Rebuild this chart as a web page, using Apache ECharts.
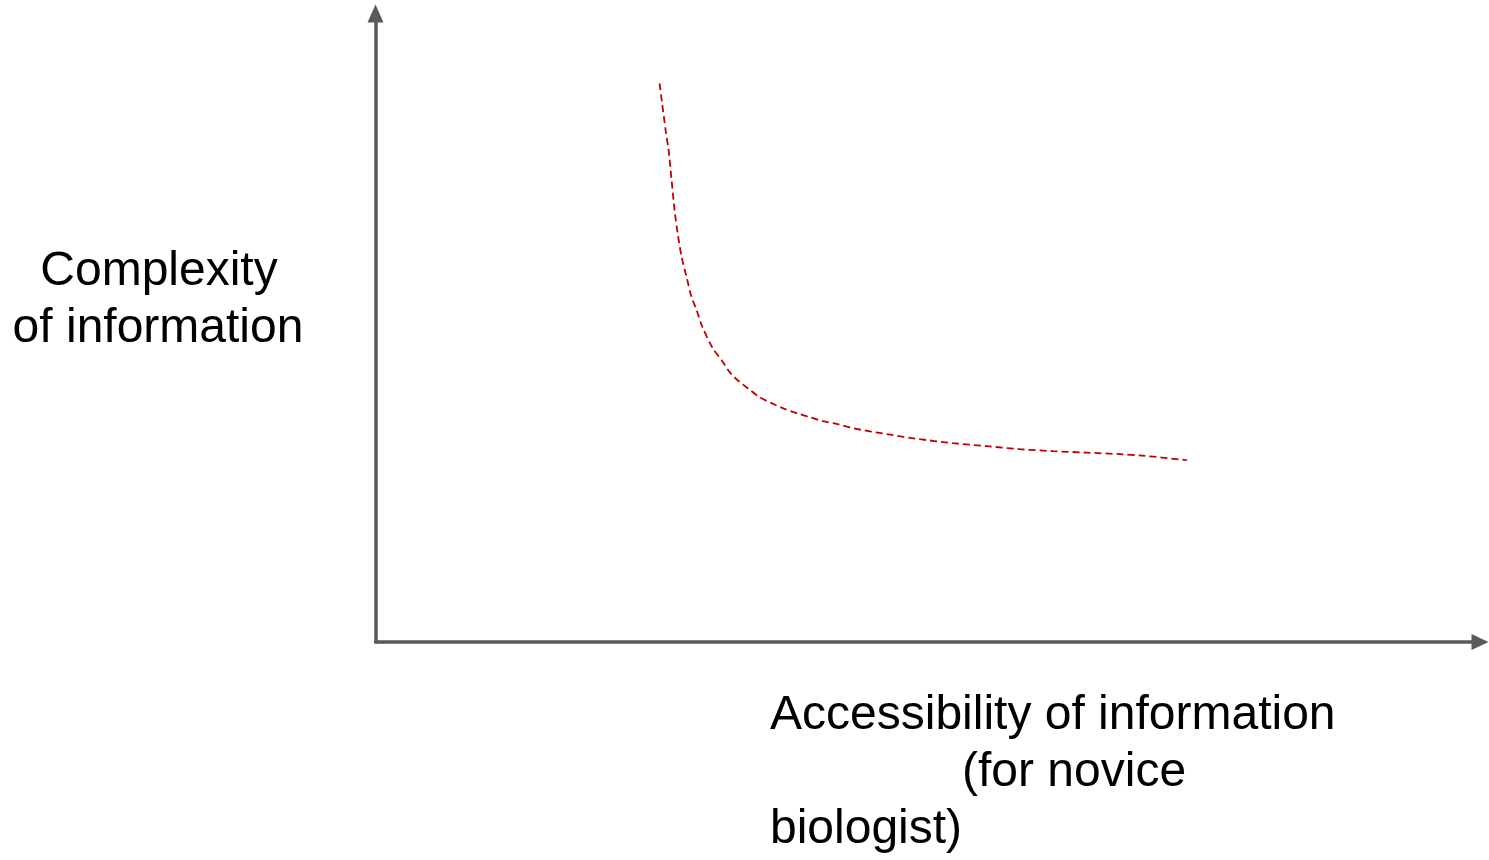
<!DOCTYPE html>
<html>
<head>
<meta charset="utf-8">
<script src="https://cdn.jsdelivr.net/npm/echarts@6/dist/echarts.min.js"></script>
<style>
html,body{margin:0;padding:0;background:#fff;}
#chart{width:1489px;height:860px;}
</style>
</head>
<body>
<div id="chart"></div>
<script>
// Curve values (accessibility, complexity) on a 0-100 scale
const accessibility = [25.72, 26.27, 26.54, 26.81, 27.08, 27.36, 27.72, 28.17, 28.62, 29.08, 29.53, 30.53, 31.34, 32.07, 32.79, 33.70, 34.78, 35.87, 36.87, 38.13, 39.31, 40.49, 41.85, 43.21, 46.29, 49.28, 52.26, 55.34, 58.33, 61.32, 64.40, 67.39, 69.47, 73.46];
const complexity    = [88.87, 81.40, 78.22, 73.45, 68.68, 65.02, 61.21, 58.03, 54.85, 52.78, 50.40, 46.74, 44.83, 42.93, 41.65, 40.38, 38.95, 38.00, 37.20, 36.41, 35.77, 35.14, 34.66, 34.02, 33.07, 32.27, 31.64, 31.16, 30.68, 30.37, 30.13, 29.89, 29.65, 28.93];
const yAxisTitleLines = ["Complexity", "of information"];
const xAxisTitleLines = ["Accessibility of information", "(for novice", "biologist)"];

const curve = accessibility.map((x, i) => [x, complexity[i]]);
const font = '"Liberation Sans", Arial, sans-serif';
const axisColor = '#595959';
const fs = '48px ';

const chart = echarts.init(document.getElementById('chart'), null, {renderer: 'canvas'});
chart.setOption({
  animation: false,
  backgroundColor: '#ffffff',
  grid: {left: 375.5, right: 9, top: 13.5, bottom: 218, containLabel: false},
  xAxis: {
    type: 'value', min: 0, max: 100,
    axisLine: {show: true, lineStyle: {color: axisColor, width: 3.5}, symbol: ['none', 'triangle'], symbolSize: [16, 17]},
    axisTick: {show: false}, axisLabel: {show: false}, splitLine: {show: false}
  },
  yAxis: {
    type: 'value', min: 0, max: 100,
    axisLine: {show: true, lineStyle: {color: axisColor, width: 3.5}, symbol: ['none', 'triangle'], symbolSize: [16, 18]},
    axisTick: {show: false}, axisLabel: {show: false}, splitLine: {show: false}
  },
  series: [{
    type: 'line',
    data: curve,
    smooth: 0.3,
    showSymbol: false,
    lineStyle: {color: '#c00000', width: 1.8, type: [7, 4]}
  }],
  graphic: [
    {type: 'text', x: 159, y: 272, style: {text: yAxisTitleLines[0], font: fs + font, fill: '#000', textAlign: 'center', textVerticalAlign: 'middle'}},
    {type: 'text', x: 158, y: 329, style: {text: yAxisTitleLines[1], font: fs + font, fill: '#000', textAlign: 'center', textVerticalAlign: 'middle'}},
    {type: 'text', x: 770, y: 716, style: {text: xAxisTitleLines[0], font: fs + font, fill: '#000', textAlign: 'left', textVerticalAlign: 'middle'}},
    {type: 'text', x: 962, y: 773, style: {text: xAxisTitleLines[1], font: fs + font, fill: '#000', textAlign: 'left', textVerticalAlign: 'middle'}},
    {type: 'text', x: 770, y: 830, style: {text: xAxisTitleLines[2], font: fs + font, fill: '#000', textAlign: 'left', textVerticalAlign: 'middle'}}
  ]
});
</script>
</body>
</html>
